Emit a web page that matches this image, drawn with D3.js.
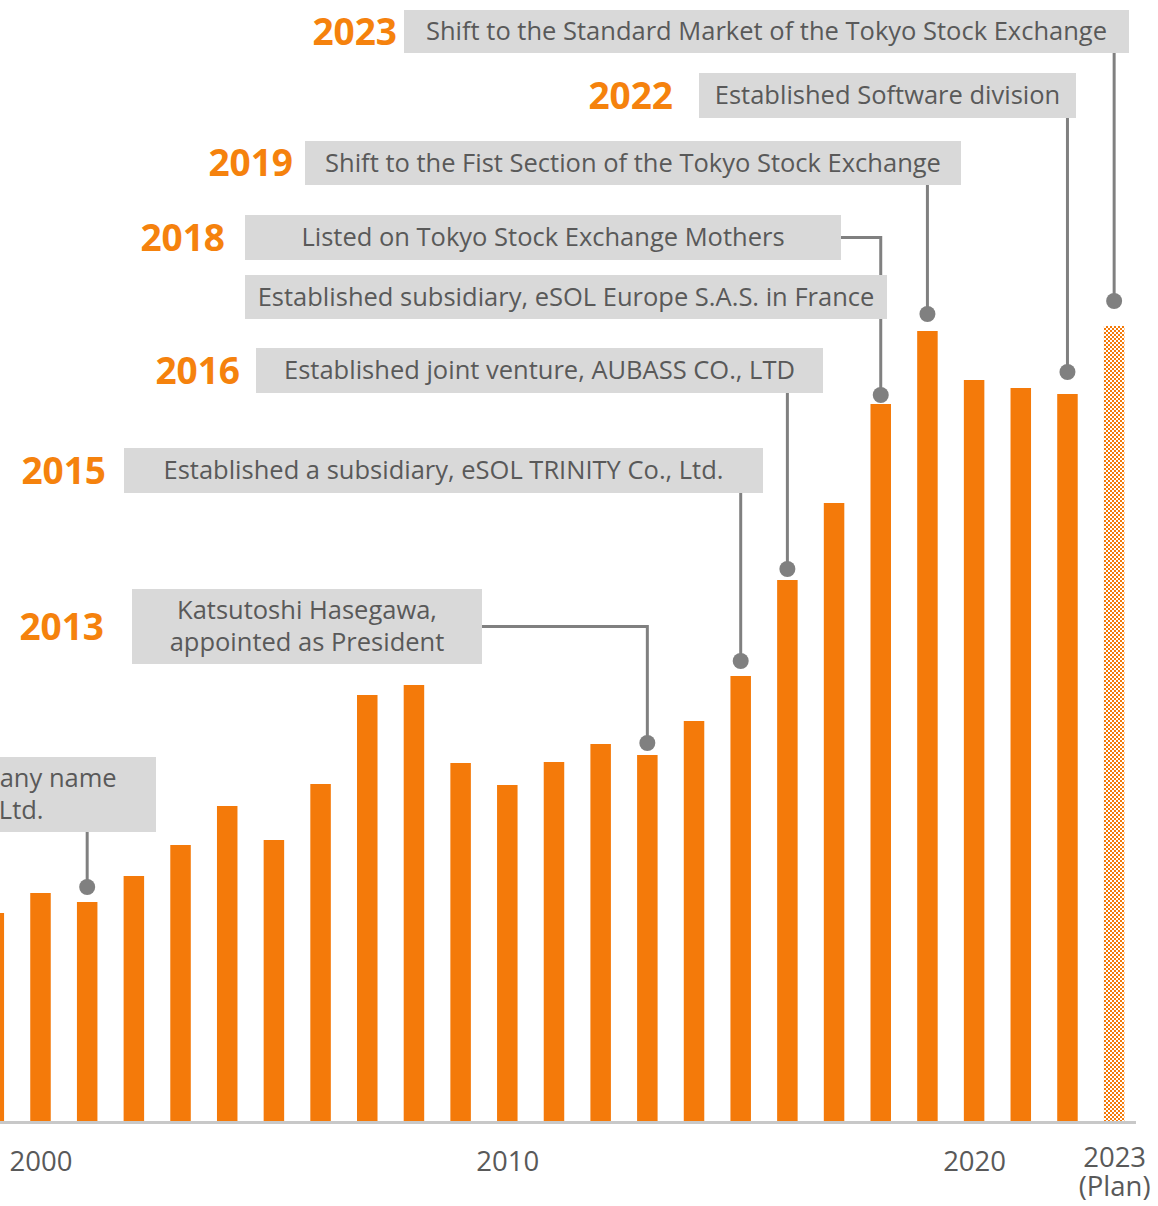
<!DOCTYPE html>
<html>
<head>
<meta charset="utf-8">
<script src="https://cdn.jsdelivr.net/npm/d3@7"></script>
<style>
  body { margin: 0; background: #fff; }
  svg { display: block; font-family: "Open Sans", "Noto Sans", sans-serif; }
  .axis-label { fill: #595959; font-size: 27.5px; font-family: "Open Sans", "Noto Sans", sans-serif; }
  .callout-text { fill: #595959; font-size: 25.5px; }
  .year-label { fill: #f5820d; font-size: 37px; font-weight: 700; }
</style>
</head>
<body>
<svg id="chart"></svg>
<script>
// Sales history (relative units)
const years = [1999, 2000, 2001, 2002, 2003, 2004, 2005, 2006, 2007, 2008, 2009, 2010,
               2011, 2012, 2013, 2014, 2015, 2016, 2017, 2018, 2019, 2020, 2021, 2022, 2023];
const sales = [208, 228, 219, 245, 276, 315, 281, 337, 426, 436, 358, 336,
               359, 377, 366, 400, 445, 541, 618, 717, 790, 741, 733, 727, 795];
const planYear = 2023;

const tickYears = [2000, 2010, 2020, 2023];
const tickLabels = {2000: ['2000'], 2010: ['2010'], 2020: ['2020'], 2023: ['2023', '(Plan)']};

// Milestones
const eventYears = [2023, 2022, 2019, 2018, 2018, 2016, 2015, 2013, 2001];
const eventTexts = [
    ['Shift to the Standard Market of the Tokyo Stock Exchange'],
    ['Established Software division'],
    ['Shift to the Fist Section of the Tokyo Stock Exchange'],
    ['Listed on Tokyo Stock Exchange Mothers'],
    ['Established subsidiary, eSOL Europe S.A.S. in France'],
    ['Established joint venture, AUBASS CO., LTD'],
    ['Established a subsidiary, eSOL TRINITY Co., Ltd.'],
    ['Katsutoshi Hasegawa,', 'appointed as President'],
    ['Changed the company name', 'to eSOL Co., Ltd.']
];

// Box layout for each milestone: box edges, where the year label ends, dot gap
const calloutLayout = [
    {x0: 404, y0: 10,  x1: 1129, y1: 53,  labelRight: 397, gap: 25, exit: 'bottom'},
    {x0: 699, y0: 73,  x1: 1076, y1: 118, labelRight: 673, gap: 22, exit: 'bottom'},
    {x0: 305, y0: 141, x1: 961,  y1: 185, labelRight: 293, gap: 17, exit: 'bottom'},
    {x0: 245, y0: 215, x1: 841,  y1: 260, labelRight: 225, gap: 9,  exit: 'right'},
    {x0: 245, y0: 275, x1: 887,  y1: 319, labelRight: null, gap: 9, exit: 'none'},
    {x0: 256, y0: 348, x1: 823,  y1: 393, labelRight: 240, gap: 11, exit: 'bottom'},
    {x0: 124, y0: 448, x1: 763,  y1: 493, labelRight: 106, gap: 15, exit: 'bottom'},
    {x0: 132, y0: 589, x1: 482,  y1: 664, labelRight: 104, gap: 12, exit: 'right'},
    {x0: -270, y0: 757, x1: 156, y1: 832, labelRight: null, gap: 15, exit: 'bottom', textCx: -54}
];

const width = 1158, height = 1206;
const baseline = 1121;
const barWidth = 20.5;

const svg = d3.select('#chart')
    .attr('width', width)
    .attr('height', height);

// year -> bar centre
const x = d3.scaleLinear()
    .domain([2000, 2020])
    .range([40.5, 974.1]);

const y = d3.scaleLinear()
    .domain([0, 800])
    .range([baseline, baseline - 800]);

// checker pattern for the plan bar
const pattern = svg.append('defs').append('pattern')
    .attr('id', 'plan-hatch')
    .attr('patternUnits', 'userSpaceOnUse')
    .attr('width', 4)
    .attr('height', 4);
pattern.append('rect').attr('width', 4).attr('height', 4).attr('fill', '#fff');
pattern.append('rect').attr('width', 2).attr('height', 2).attr('fill', '#f47a0a');
pattern.append('rect').attr('x', 2).attr('y', 2).attr('width', 2).attr('height', 2).attr('fill', '#f47a0a');

const salesByYear = new Map(years.map((yr, i) => [yr, sales[i]]));

// Connectors (drawn under the boxes)
const connectors = svg.append('g');
eventYears.forEach((yr, i) => {
    const lay = calloutLayout[i];
    if (lay.exit === 'none') return;
    const cx = x(yr);
    const dotY = y(salesByYear.get(yr)) - lay.gap;
    let pts;
    if (lay.exit === 'right') {
        const my = (lay.y0 + lay.y1) / 2;
        pts = [[lay.x1, my], [cx, my], [cx, dotY]];
    } else {
        pts = [[cx, lay.y1], [cx, dotY]];
    }
    connectors.append('path')
        .attr('d', d3.line()(pts))
        .attr('fill', 'none')
        .attr('stroke', '#808080')
        .attr('stroke-width', 3);
    connectors.append('circle')
        .attr('cx', cx)
        .attr('cy', dotY)
        .attr('r', 8)
        .attr('fill', '#808080');
});

// Boxes + texts
const boxes = svg.append('g');
eventTexts.forEach((lines, i) => {
    const lay = calloutLayout[i];
    boxes.append('rect')
        .attr('x', lay.x0)
        .attr('y', lay.y0)
        .attr('width', lay.x1 - lay.x0)
        .attr('height', lay.y1 - lay.y0)
        .attr('fill', '#d9d9d9');
    const cy = (lay.y0 + lay.y1) / 2;
    const tx = lay.textCx !== undefined ? lay.textCx : (lay.x0 + lay.x1) / 2;
    const lh = 32;
    const t = boxes.append('text')
        .attr('class', 'callout-text')
        .attr('text-anchor', 'middle');
    lines.forEach((ln, j) => {
        t.append('tspan')
            .attr('x', tx)
            .attr('y', cy + (j - (lines.length - 1) / 2) * lh)
            .attr('dy', '0.35em')
            .text(ln);
    });
    if (lay.labelRight !== null) {
        boxes.append('text')
            .attr('class', 'year-label')
            .attr('x', lay.labelRight)
            .attr('y', cy)
            .attr('dy', '0.36em')
            .attr('text-anchor', 'end')
            .text(eventYears[i]);
    }
});

// Bars
svg.append('g').selectAll('rect')
    .data(years)
    .join('rect')
    .attr('x', d => x(d) - barWidth / 2)
    .attr('y', d => y(salesByYear.get(d)))
    .attr('width', barWidth)
    .attr('height', d => baseline - y(salesByYear.get(d)))
    .attr('fill', d => d === planYear ? 'url(#plan-hatch)' : '#f47a0a');

// Baseline
svg.append('line')
    .attr('x1', 0)
    .attr('x2', 1136)
    .attr('y1', baseline + 1.5)
    .attr('y2', baseline + 1.5)
    .attr('stroke', '#c8c8c8')
    .attr('stroke-width', 3);

// X axis labels
const xAxis = d3.axisBottom(x)
    .tickValues(tickYears)
    .tickSize(0)
    .tickFormat('');
const axisG = svg.append('g')
    .attr('transform', `translate(0,${baseline})`)
    .call(xAxis)
    .attr('font-family', null)
    .attr('font-size', null);
axisG.select('.domain').remove();
axisG.selectAll('.tick text').remove();
axisG.selectAll('.tick').each(function(d) {
    const lines = tickLabels[d];
    const t = d3.select(this).append('text')
        .attr('class', 'axis-label')
        .attr('text-anchor', 'middle');
    lines.forEach((ln, j) => {
        t.append('tspan')
            .attr('x', 0)
            .attr('y', (lines.length > 1 ? 46 : 50) + j * 29)
            .text(ln);
    });
});
</script>
</body>
</html>
